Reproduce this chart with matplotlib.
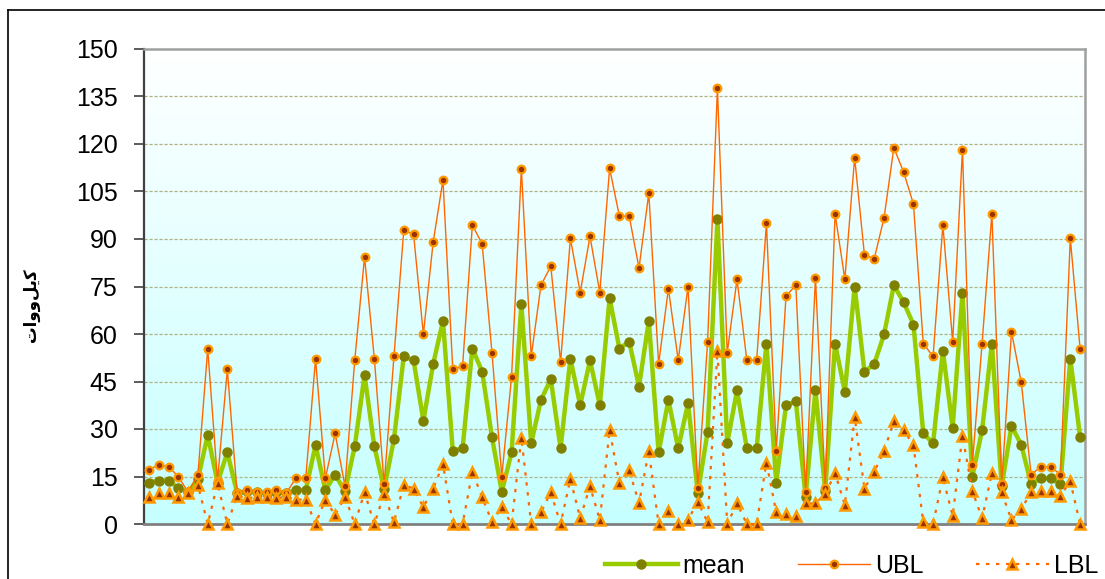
import matplotlib
matplotlib.use("Agg")
import matplotlib.pyplot as plt
from matplotlib.lines import Line2D
from matplotlib.colors import LinearSegmentedColormap
from matplotlib import font_manager
import numpy as np

# values (kW), 96 samples
mean = [13.1, 13.7, 13.7, 11.4, 10.0, 14.2, 28.1, 13.1, 22.6, 9.8,
        10.3, 10.0, 9.8, 10.0, 9.8, 10.7, 10.7, 24.9, 10.7, 15.6,
        10.3, 24.5, 47.0, 24.5, 11.0, 26.8, 52.9, 51.7, 32.6, 50.5,
        64.1, 23.1, 23.9, 55.4, 48.1, 27.4, 10.2, 22.6, 69.4, 25.5,
        39.2, 45.7, 23.9, 52.2, 37.5, 51.7, 37.5, 71.3, 55.4, 57.6,
        43.4, 64.2, 22.6, 39.2, 23.9, 38.1, 9.8, 29.1, 96.2, 25.5,
        42.2, 23.9, 23.9, 57.0, 13.1, 37.5, 38.7, 8.6, 42.2, 10.5,
        57.0, 41.7, 75.0, 48.1, 50.5, 59.9, 75.4, 70.0, 63.0, 28.6,
        25.5, 54.7, 30.3, 73.1, 14.9, 29.6, 57.0, 11.9, 31.0, 25.0,
        12.6, 14.4, 14.4, 12.6, 52.2, 27.4]

ubl = [17.2, 18.6, 18.1, 15.0, 10.0, 15.6, 55.3, 13.7, 48.8, 9.8,
       10.7, 10.0, 10.0, 10.7, 9.8, 14.4, 14.4, 52.2, 14.4, 28.6,
       12.0, 51.7, 84.3, 52.2, 12.6, 52.9, 92.7, 91.5, 59.9, 89.0,
       108.6, 48.8, 49.8, 94.4, 88.4, 54.1, 15.0, 46.5, 112.2, 52.9,
       75.4, 81.4, 51.2, 90.2, 73.1, 90.8, 73.1, 112.3, 97.2, 97.2,
       80.8, 104.5, 50.5, 74.3, 51.7, 75.0, 11.4, 57.6, 137.6, 54.1,
       77.3, 51.7, 51.7, 94.9, 23.2, 72.0, 75.4, 10.2, 77.8, 11.4,
       98.0, 77.3, 115.7, 84.9, 83.8, 96.7, 118.8, 111.1, 101.0, 57.0,
       52.9, 94.4, 57.6, 118.2, 18.7, 57.0, 98.0, 12.6, 60.7, 44.7,
       15.6, 18.1, 18.1, 15.6, 90.2, 55.3]

lbl = [8.6, 9.7, 9.7, 8.4, 9.7, 12.3, 0, 12.8, 0, 8.9,
       8.1, 8.6, 8.6, 8.1, 8.6, 7.7, 7.7, 0, 7.7, 2.8,
       8.6, 0, 10.0, 0, 9.5, 0.5, 12.3, 11.2, 5.3, 11.2,
       18.9, 0, 0, 16.5, 8.4, 0.7, 5.3, 0, 27.3, 0,
       3.7, 10.0, 0, 14.2, 1.8, 11.9, 1.3, 29.6, 12.9, 17.0,
       6.5, 23.1, 0, 4.2, 0, 1.3, 7.0, 0.5, 54.6, 0,
       6.5, 0, 0, 19.4, 3.7, 3.2, 2.4, 6.5, 6.5, 9.5,
       16.0, 6.0, 33.8, 11.2, 16.5, 23.1, 32.4, 29.6, 24.9, 0.5,
       0, 14.7, 2.6, 27.9, 10.5, 1.8, 16.0, 10.0, 1.3, 4.7,
       10.0, 10.5, 10.5, 8.9, 13.5, 0]

yticks = [0, 15, 30, 45, 60, 75, 90, 105, 120, 135, 150]
# "کیلووات" in presentation forms, visual order (no shaping in matplotlib)
ylabel = "\uFE95\uFE8D\uFEED\uFEED\uFEDE\uFBFE\uFB90"

# narrow font for the tick labels if there is one
names = {f.name for f in font_manager.fontManager.ttflist}
if "Liberation Sans Narrow" in names:
    tick_font, tick_size = "Liberation Sans Narrow", 23
else:
    tick_font, tick_size = "Liberation Sans", 18

x = np.arange(len(mean))

fig = plt.figure(figsize=(11.05, 5.79), dpi=100)
ax = fig.add_axes([144/1105, 55/579, 941/1105, 475/579])

# gradient background
cmap = LinearSegmentedColormap.from_list("bg", ["#c6ffff", "#ffffff"])
ax.imshow(np.linspace(0, 1, 256).reshape(-1, 1), cmap=cmap, aspect="auto",
          extent=[0, 1, 0, 1], transform=ax.transAxes, origin="lower", zorder=0)

for v in yticks[1:-1]:
    ax.axhline(v, color="#b0b080", lw=0.9, ls=(0, (2.5, 1.5)), zorder=1)

ax.plot(x, mean, color="#99cc00", lw=3.2, marker="o", ms=6.5,
        mfc="#808000", mec="#808000", zorder=3, label="mean", clip_on=False)
ax.plot(x, ubl, color="#ff6600", lw=1.0, marker="o", ms=5.5,
        mfc="#993300", mec="#ff9900", mew=1.6, zorder=4, label="UBL", clip_on=False)
ax.plot(x, lbl, color="#ff6600", lw=1.6, ls=(0, (1.5, 3)), marker="^", ms=6.5,
        mfc="#993300", mec="#ff9900", mew=1.8, zorder=5, label="LBL", clip_on=False)

ax.set_xlim(-0.5, len(mean) - 0.5)
ax.set_ylim(0, 150)
ax.set_xticks([])
ax.set_yticks(yticks)
ax.set_yticklabels([str(v) for v in yticks], family=tick_font, fontsize=tick_size)
ax.tick_params(axis="y", length=7, width=1.2, color="#404040", pad=12)

ax.spines["left"].set_color("#404040")
ax.spines["left"].set_linewidth(1.6)
ax.spines["bottom"].set_color("#808080")
ax.spines["bottom"].set_linewidth(2)
for s in ["top", "right"]:
    ax.spines[s].set_color("#a0a0a0")
    ax.spines[s].set_linewidth(1.8)

fig.text(31/1105, 1 - 305/579, ylabel, rotation=90, ha="center", va="center",
         fontsize=12, fontweight="bold", family="DejaVu Sans")

leg = fig.legend(loc="center left", bbox_to_anchor=(605/1105, 1 - 566/579),
                 ncol=3, frameon=False, prop={"family": "Liberation Sans", "size": 18},
                 handlelength=2.9, handletextpad=0.2, columnspacing=2.1,
                 borderpad=0, borderaxespad=0)

# outer frame edges (top and left)
fig.add_artist(Line2D([8/1105, 1], [1 - 10/579, 1 - 10/579], color="black",
                      lw=1.2, transform=fig.transFigure))
fig.add_artist(Line2D([8/1105, 8/1105], [0, 1 - 10/579], color="black",
                      lw=1.2, transform=fig.transFigure))

fig.savefig("out.png", dpi=100)
